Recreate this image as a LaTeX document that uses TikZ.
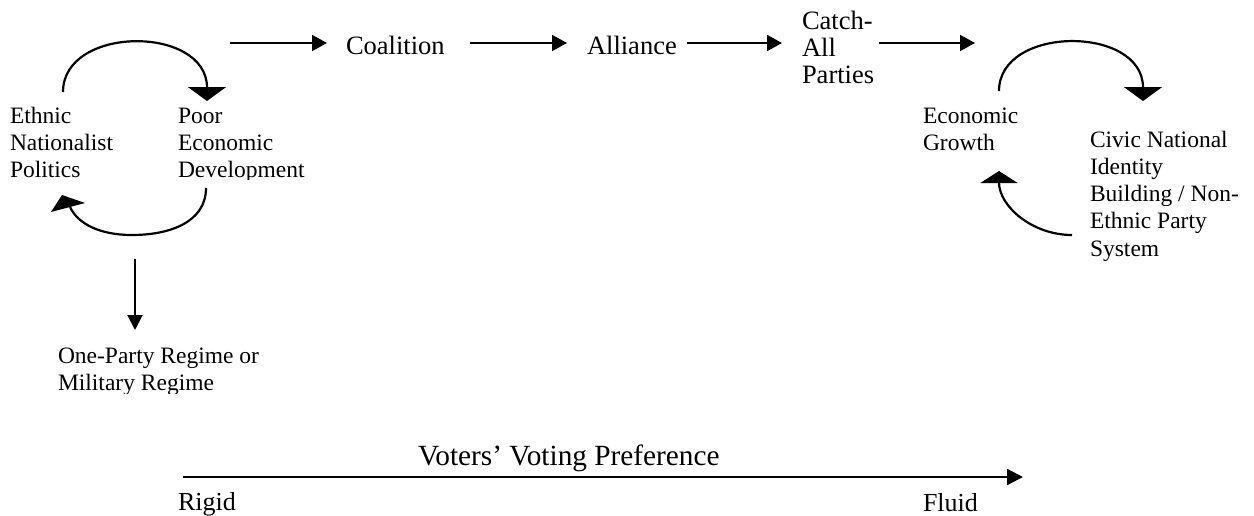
\documentclass[tikz,border=0pt]{standalone}
\usepackage{fontspec}
\setmainfont{Liberation Serif}
\usetikzlibrary{arrows.meta}
\begin{document}
\begin{tikzpicture}[x=1pt,y=-1pt,
  lbl/.style={inner sep=0pt, outer sep=0pt, anchor=base west},
  cyc/.style={lbl, font=\fontsize{23.5}{27.3}\selectfont},
  toplbl/.style={lbl, font=\fontsize{26.5}{27}\selectfont},
  axlbl/.style={lbl, font=\fontsize{26}{30}\selectfont},
  conn/.style={line width=2pt, -{Triangle[length=15pt,width=16pt]}},
  loopline/.style={line width=2.2pt},
]
\useasboundingbox (0,0) rectangle (1254,515);

% ---------- text nodes ----------
\node[cyc] (eth) at (10,123) {\begin{tabular}[t]{@{}l@{}}Ethnic\\Nationalist\\Politics\end{tabular}};
\begin{scope}
  \clip (170,95) rectangle (330,179);
  \node[cyc] (poor) at (178,123) {\begin{tabular}[t]{@{}l@{}}Poor\\Economic\\Development\end{tabular}};
\end{scope}
\begin{scope}
  \clip (50,340) rectangle (330,393);
  \node[cyc] (onep) at (58,363) {\begin{tabular}[t]{@{}l@{}}One-Party Regime or\\Military Regime\end{tabular}};
\end{scope}
\node[toplbl] (coal) at (346,54) {Coalition};
\node[toplbl] (alli) at (587,54) {Alliance};
\node[toplbl] (catch) at (802,29) {\begin{tabular}[t]{@{}l@{}}Catch-\\All\\Parties\end{tabular}};
\node[cyc] (econ) at (923,123) {\begin{tabular}[t]{@{}l@{}}Economic\\Growth\end{tabular}};
\node[cyc] (civic) at (1090,147) {\begin{tabular}[t]{@{}l@{}}Civic National\\Identity\\Building / Non-\\Ethnic Party\\System\end{tabular}};
\node[lbl, font=\fontsize{29.3}{32}\selectfont] (voters) at (418,465) {Voters’ Voting Preference};
\node[axlbl] (rigid) at (178,510) {Rigid};
\node[axlbl] (fluid) at (923,511) {Fluid};

% ---------- connector end points ----------
\coordinate (a1s) at (230,43);  \coordinate (a1e) at (327,43);
\coordinate (a2s) at (470,43);  \coordinate (a2e) at (567,43);
\coordinate (a3s) at (687,43);  \coordinate (a3e) at (782,43);
\coordinate (a4s) at (879,43);  \coordinate (a4e) at (975,43);
\coordinate (dns) at (135,259); \coordinate (dne) at (135,330);
\coordinate (axs) at (183,477); \coordinate (axe) at (1023,477);

\coordinate (l1s) at (63,92);   \coordinate (l1e) at (207,101);
\coordinate (l2s) at (206,188); \coordinate (l2m) at (132,235);
\coordinate (l2k) at (70,207);  \coordinate (l2e) at (51,212);
\coordinate (r1s) at (999,91);  \coordinate (r1e) at (1143,101);
\coordinate (r2s) at (1072,235); \coordinate (r2e) at (999,171);

% ---------- straight arrows ----------
\draw[conn] (a1s) -- (a1e);
\draw[conn] (a2s) -- (a2e);
\draw[conn] (a3s) -- (a3e);
\draw[conn] (a4s) -- (a4e);
\draw[line width=2pt, -{Triangle[length=15pt,width=15pt]}] (dns) -- (dne);
\draw[line width=2.3pt, -{Triangle[length=16pt,width=16pt]}] (axs) -- (axe);

% ---------- cycle arcs ----------
\draw[loopline, -{Triangle[length=14pt,width=38pt]}]
  (l1s) .. controls (63,25) and (207,25) .. (l1e);
\draw[loopline]
  (l2s) .. controls (206,222) and (170,235) .. (l2m)
        .. controls (100,235) and (78,224) .. (l2k);
\fill (l2e) -- (62,195) -- (85,203) -- cycle;
\draw[loopline, -{Triangle[length=14pt,width=38pt]}]
  (r1s) .. controls (999,25) and (1143,25) .. (r1e);
\draw[loopline, -{Triangle[length=12pt,width=37pt]}]
  (r2s) .. controls (1032,235) and (999,206) .. (r2e);
\end{tikzpicture}
\end{document}
